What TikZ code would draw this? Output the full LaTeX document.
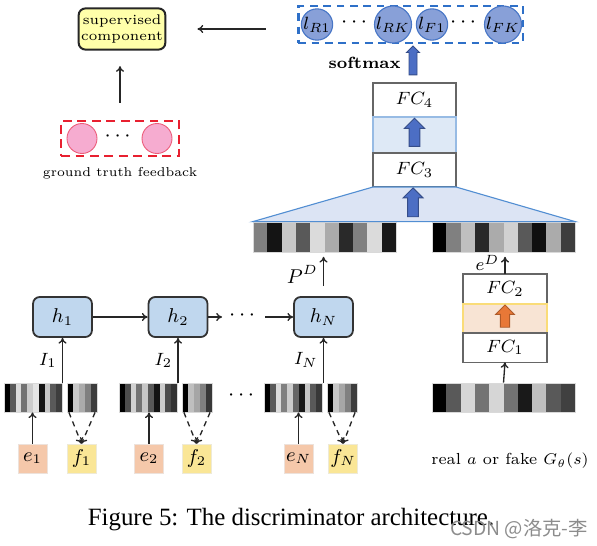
\documentclass[tikz,border=0pt]{standalone}
\usepackage{amsmath}
\usepackage{fontspec}
\newfontfamily\captionfont{Liberation Serif}
\newfontfamily\cjkfont{Noto Sans CJK SC}
\usepackage{tikz}
\usetikzlibrary{arrows.meta, positioning, shapes.arrows, fit}
\definecolor{hblue}{RGB}{192, 215, 238}
\definecolor{supyellow}{RGB}{255, 255, 170}
\definecolor{pinkfill}{RGB}{246, 172, 208}
\definecolor{pinkdraw}{RGB}{236, 92, 122}
\definecolor{reddash}{RGB}{232, 32, 48}
\definecolor{logitfill}{RGB}{136, 160, 216}
\definecolor{logitdraw}{RGB}{72, 118, 198}
\definecolor{bluedash}{RGB}{46, 112, 200}
\definecolor{arrowblue}{RGB}{76, 110, 196}
\definecolor{bandblue}{RGB}{222, 233, 246}
\definecolor{trapblue}{RGB}{220, 228, 244}
\definecolor{trapdraw}{RGB}{82, 142, 210}
\definecolor{arroworange}{RGB}{232, 120, 55}
\definecolor{bandorange}{RGB}{248, 228, 212}
\definecolor{bandorangedraw}{RGB}{250, 220, 120}
\definecolor{efill}{RGB}{245, 200, 170}
\definecolor{ffill}{RGB}{250, 230, 150}

% one strip of gray cells: left x, top y, cell width, height, darkness list
\newcommand{\barcode}[5]{%
  \foreach \d [count=\k from 0] in {#5}
    \fill[black!\d] ({#1+\k*#3},#2) rectangle ++(#3+0.3,#4);
}

\begin{document}
\begin{tikzpicture}[
    x=0.45pt, y=-0.45pt,
    conn/.style={draw=black!85, line width=0.6pt, -{To[length=2.6pt, width=3.6pt]}},
    dconn/.style={conn, dash pattern=on 2.4pt off 2pt},
    supbox/.style={draw=black!85, line width=0.9pt, fill=supyellow, rounded corners=3pt, minimum width=39pt, minimum height=18.5pt, align=center, font=\fontsize{6.3}{7.4}\selectfont, inner sep=1pt},
    gtframe/.style={draw=reddash, line width=1.2pt, dash pattern=on 4pt off 2.5pt, minimum width=53pt, minimum height=15.8pt},
    pinkdot/.style={circle, draw=pinkdraw, fill=pinkfill, line width=0.4pt, minimum size=13.5pt, inner sep=0pt},
    lframe/.style={draw=bluedash, line width=1.1pt, dash pattern=on 3.5pt off 2.5pt, minimum width=101pt, minimum height=16.7pt},
    ldot/.style={circle, draw=logitdraw, fill=logitfill, line width=0.5pt, minimum size=12.6pt, inner sep=0pt, font=\footnotesize},
    hbox/.style={draw=black!80, line width=0.8pt, fill=hblue, rounded corners=3pt, minimum width=26.5pt, minimum height=18pt, font=\small},
    fcbox/.style={draw=black!60, line width=0.6pt, fill=white, outer sep=0pt, font=\footnotesize},
    blueband/.style={draw=trapdraw!60, line width=0.5pt, fill=bandblue, outer sep=0pt, minimum width=37.35pt, minimum height=16.2pt},
    orangeband/.style={draw=bandorangedraw, line width=0.5pt, fill=bandorange, outer sep=0pt, minimum width=37.8pt, minimum height=13pt},
    fatblue/.style={single arrow, shape border rotate=90, fill=arrowblue, draw=arrowblue!70!black, line width=0.4pt, inner sep=2.2pt, single arrow head indent=0pt, single arrow head extend=2.1pt},
    fatorange/.style={fatblue, fill=arroworange, draw=arroworange!75!black},
    stripframe/.style={draw=black!15, line width=0.3pt, inner sep=0pt},
    ebox/.style={fill=efill, draw=efill!80!black!30, line width=0.3pt, minimum size=13pt, inner sep=0pt, font=\small},
    fbox/.style={ebox, fill=ffill, draw=ffill!80!black!30}
]
\useasboundingbox (0,0) rectangle (597,545);

% Supervised branch
\node[supbox] (sup) at (122,29) {supervised\\component};
\node[gtframe] (gtbox) at (120,138.5) {};
\node[pinkdot] (gt1) at (82,138.5) {};
\node[pinkdot] (gt2) at (157,138.5) {};
\node (gtdots) at (119.5,137) {$\cdots$};
\node[below=1pt of gtbox, font=\fontsize{5.8}{7}\selectfont] (gtlabel) {ground truth feedback};
\draw[conn, shorten <=7.5pt, shorten >=7pt] (gtbox.north) -- (gtbox.north |- sup.south);

% Output logits
\node[lframe] (lbox) at (410.5,24.5) {};
\node[ldot] (lR1) at (317,24.5) {$l_{R1}$};
\node (ldots1) at (356,23) {$\cdots$};
\node[ldot] (lRK) at (393,24.5) {$l_{RK}$};
\node[ldot] (lF1) at (432,24.5) {$l_{F1}$};
\node (ldots2) at (465,23) {$\cdots$};
\node[ldot] (lFK) at (503,24.5) {$l_{FK}$};
\draw[conn, shorten <=14pt, shorten >=14pt] (lbox.west |- sup.east) -- (sup.east);
\node[fatblue, inner sep=1.6pt, single arrow head extend=1.1pt, minimum height=13pt] (smax) at (413,62.5) {};
\node[left=0pt of smax, font=\fontsize{7.3}{9}\selectfont\bfseries] (smaxlabel) {softmax};

% FC3 / FC4 stack
\node[fcbox, minimum width=37.35pt, minimum height=15.3pt] (fc4) at (414.5,100) {$FC_4$};
\node[blueband, below=0pt of fc4] (band34) {};
\node[fcbox, minimum width=37.35pt, minimum height=15.3pt, below=0pt of band34] (fc3) {$FC_3$};
\node[fatblue, minimum height=12.6pt] (up34) at (band34) {};

% Concatenated features
\barcode{253}{222}{14.3}{30}{50,92,22,65,14,33,84,50,14,90}
\barcode{432}{222}{14.3}{30}{100,50,25,84,33,18,65,94,33,76}
\node[stripframe, fit={(253,222) (396,252)}] (topL) {};
\node[stripframe, fit={(432,222) (575,252)}] (topR) {};
\draw[draw=trapdraw, line width=0.5pt, fill=trapblue] (fc3.south west) -- (fc3.south east) -- (topR.north east) -- (topL.north west) -- cycle;
\node[fatblue, minimum height=13pt] (uptrap) at (413,205) {};

% FC1 / FC2 stack
\node[fcbox, minimum width=37.8pt, minimum height=13.5pt] (fc2) at (505,289) {$FC_2$};
\node[orangeband, below=0pt of fc2] (band12) {};
\node[fcbox, minimum width=37.8pt, minimum height=13pt, below=0pt of band12] (fc1) {$FC_1$};
\node[fatorange, inner sep=1.9pt, minimum height=10pt] (up12) at (band12) {};
\draw[conn, shorten >=2pt] (fc2.north) -- node[left=-1pt, font=\footnotesize] {$e^D$} (fc2.north |- topR.south);

% Real or fake answer
\barcode{432}{383}{14.3}{29}{100,65,16,55,16,55,90,25,65,75}
\node[stripframe, fit={(432,383) (575,412)}] (real) {};
\draw[conn] (real.north) -- (fc1.south);
\node[font=\fontsize{7.2}{9}\selectfont] (reallabel) at (510,461) {real $a$ or fake $G_\theta(s)$};

% Recurrent encoder
\node[hbox] (h1) at (62.5,317) {$h_1$};
\node[hbox] (h2) at (178,317) {$h_2$};
\node[hbox] (hN) at (323.5,317) {$h_N$};
\node (hdots) at (244,315.5) {$\cdots$};
\coordinate (hgoL) at (222,317);
\coordinate (hgoR) at (265,317);
\draw[conn] (h1) -- (h2);
\draw[conn] (h2) -- (hgoL);
\draw[conn] (hgoR) -- (hN);
\draw[conn, shorten <=4.5pt, shorten >=2pt] (hN.north) -- node[left=-1pt, font=\small] {$P^D$} (hN.north |- topL.south);

% Input strips
\barcode{4}{383}{5.8}{29}{100,65,14,55,20,10,92,22,65,76}
\barcode{67}{383}{6}{29}{100,22,33,50,76}
\barcode{119}{383}{5.8}{29}{100,70,18,55,22,65,92,20,70,80}
\barcode{182}{383}{6}{29}{100,25,35,50,78}
\barcode{264}{383}{5.8}{29}{100,65,14,50,20,60,90,22,65,78}
\barcode{327}{383}{6}{29}{100,22,35,50,76}
\node[stripframe, fit={(4,383) (62,412)}] (e1s) {};
\node[stripframe, fit={(67,383) (97,412)}] (f1s) {};
\node[stripframe, fit={(119,383) (177,412)}] (e2s) {};
\node[stripframe, fit={(182,383) (212,412)}] (f2s) {};
\node[stripframe, fit={(264,383) (322,412)}] (eNs) {};
\node[stripframe, fit={(327,383) (357,412)}] (fNs) {};
\node (sdots) at (243,395.5) {$\cdots$};
\draw[conn] (h1.south |- e1s.north) -- node[left=-1pt, font=\footnotesize] {$I_1$} (h1.south);
\draw[conn] (h2.south |- e2s.north) -- node[left=-1pt, font=\footnotesize] {$I_2$} (h2.south);
\draw[conn] (hN.south |- eNs.north) -- node[left=-1pt, font=\footnotesize] {$I_N$} (hN.south);

% Entity and feature inputs
\node[ebox] (e1) at (32.5,458.5) {$e_1$};
\node[fbox] (f1) at (81.5,458.5) {$f_1$};
\node[ebox] (e2) at (149,458.5) {$e_2$};
\node[fbox] (f2) at (196.5,458.5) {$f_2$};
\node[ebox] (eN) at (298.5,458.5) {$e_N$};
\node[fbox] (fN) at (343,458.5) {$f_N$};
\draw[conn] (e1.north) -- (e1.north |- e1s.south);
\draw[conn] (e2.north) -- (e2.north |- e2s.south);
\draw[conn] (eN.north) -- (eN.north |- eNs.south);
\draw[dconn] ([xshift=1pt]f1s.south west) -- (f1.north);
\draw[dconn] ([xshift=-1pt]f1s.south east) -- (f1.north);
\draw[dconn] ([xshift=1pt]f2s.south west) -- (f2.north);
\draw[dconn] ([xshift=-1pt]f2s.south east) -- (f2.north);
\draw[dconn] ([xshift=1pt]fNs.south west) -- (fN.north);
\draw[dconn] ([xshift=-1pt]fNs.south east) -- (fN.north);

% Caption and watermark
\node[font=\captionfont\fontsize{11.2}{13}\selectfont] (caption) at (291,520) {Figure 5: The discriminator architecture.};
\node[font=\cjkfont\fontsize{8.7}{10}\selectfont, text=black!45] (mark) at (519,529) {CSDN @洛克-李};

\end{tikzpicture}
\end{document}
